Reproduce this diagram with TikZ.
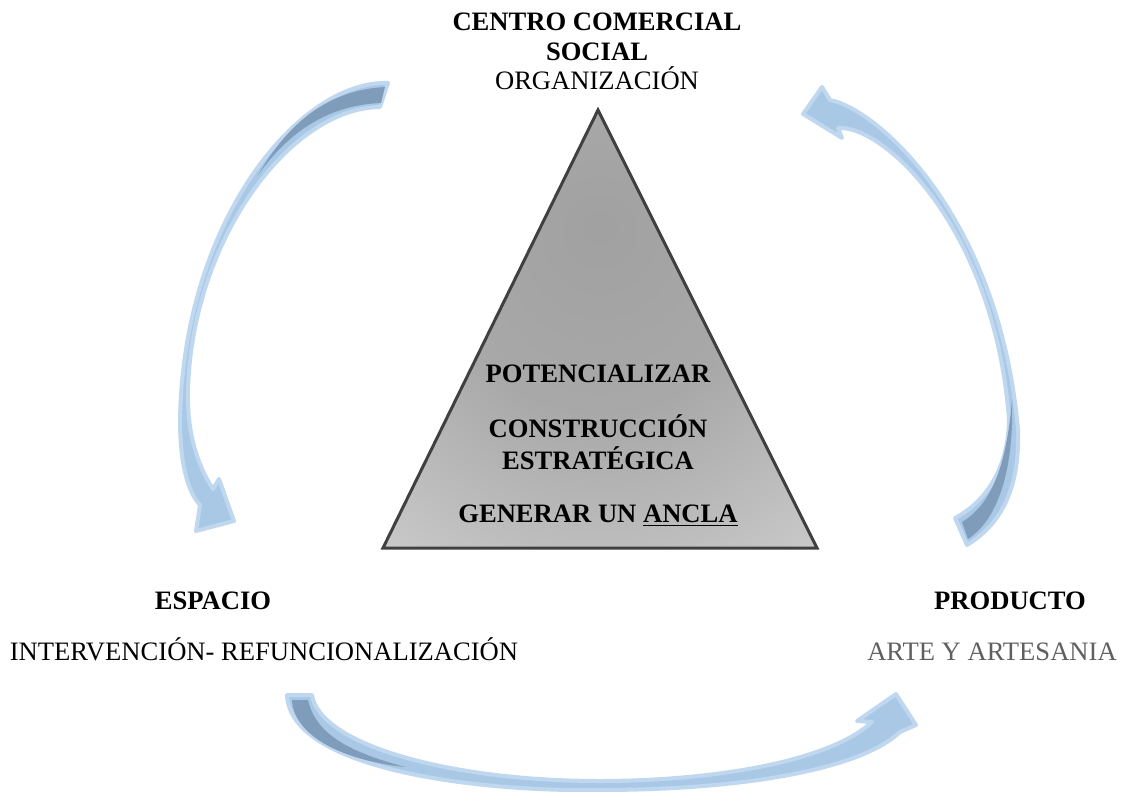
\documentclass[tikz,border=0pt]{standalone}
\usepackage{fontspec}
\setmainfont{Liberation Serif}
\usetikzlibrary{positioning, backgrounds}
\definecolor{pyredge}{HTML}{404040}
\definecolor{arrowedge}{HTML}{C0D8EF}
\definecolor{arrowfill}{HTML}{A9C8E6}
\definecolor{arrowdark}{HTML}{7F9DBA}
\definecolor{softtext}{HTML}{5F5F5F}
\pgfdeclareradialshading{pyrshade}{\pgfpoint{0bp}{12bp}}%
  {color(0bp)=(black!37); color(18bp)=(black!34); color(42bp)=(black!19);
   color(60bp)=(black!12)}
\tikzset{
  cyctitle/.style = {font=\fontsize{13.3}{15}\selectfont\bfseries,
                     anchor=base, inner sep=0pt},
  cyctext/.style  = {font=\fontsize{13.3}{15}\selectfont,
                     anchor=base, inner sep=0pt},
  pyrbox/.style   = {draw=pyredge, line width=1.5pt, shading=pyrshade},
  curvarrow/.style = {fill=arrowfill, draw=arrowedge, line width=2pt,
                      line join=round},
  arrowback/.style = {fill=arrowdark}
}
\begin{document}
\begin{tikzpicture}[x=0.5pt, y=-0.5pt]
  \useasboundingbox (0,0) rectangle (1124,792);

  % top corner
  \node[cyctitle] (centro) at (597,31) {CENTRO COMERCIAL};
  \node[cyctitle] (social) at (597,61) {SOCIAL};
  \node[cyctext]  (organiz) at (597,90) {ORGANIZACIÓN};

  % bottom corners
  \node[cyctitle] (espacio)  at (213,609) {ESPACIO};
  \node[cyctext]  (interv)   at (264,660) {INTERVENCIÓN- REFUNCIONALIZACIÓN};
  \node[cyctitle] (producto) at (1010,609) {PRODUCTO};
  \node[cyctext, text=softtext] (arte) at (992,660) {ARTE Y ARTESANIA};

  % pyramid
  \coordinate (pyrtop)   at (598,110);
  \coordinate (pyrleft)  at (383,548);
  \coordinate (pyrright) at (817,548);
  \draw[pyrbox] (pyrtop) -- (pyrright) -- (pyrleft) -- cycle;

  \node[cyctitle] (potenc) at (598,382) {POTENCIALIZAR};
  \node[cyctitle] (constr) at (598,437) {CONSTRUCCIÓN};
  \node[cyctitle] (estrat) at (598,469) {ESTRATÉGICA};
  \node[cyctitle] (ancla)  at (598,522) {GENERAR UN \underline{ANCLA}};

  % organizacion -> espacio
  \coordinate (orgtailA) at (388,83);
  \coordinate (orgtailB) at (380,107);
  \coordinate (esptip)   at (234,521);
  \draw[curvarrow] (orgtailA) .. controls (300,80) and (183,220) .. (180,420)
        .. controls (180,465) and (188,492) .. (200,505) -- (196,531) -- (esptip)
        -- (219,479) -- (213,489) .. controls (194,460) and (187,425) .. (188,390)
        .. controls (192,240) and (290,108) .. (orgtailB) -- cycle;
  \fill[arrowback] (385,87) -- (381,103) .. controls (330,105) and (290,130) .. (258,175)
        .. controls (290,120) and (330,90) .. (385,87) -- cycle;

  % espacio -> producto
  \coordinate (esptailA) at (287,695);
  \coordinate (esptailB) at (312,695);
  \coordinate (prodtip)  at (896,694);
  \draw[curvarrow] (esptailB) .. controls (320,745) and (450,781) .. (600,781)
        .. controls (700,781) and (825,765) .. (872,722) -- (857,721) -- (prodtip)
        -- (916,725) -- (900,732) .. controls (860,770) and (740,790) .. (600,790)
        .. controls (480,792) and (290,770) .. (esptailA) -- cycle;
  \fill[arrowback] (292,700) -- (308,700) .. controls (316,735) and (350,752) .. (405,767)
        .. controls (340,760) and (294,735) .. (292,700) -- cycle;

  % producto -> organizacion
  \coordinate (prodtailA) at (967,545);
  \coordinate (prodtailB) at (955,518);
  \coordinate (orgtip)    at (803,114);
  \draw[curvarrow] (prodtailB) .. controls (985,502) and (1008,470) .. (1009,420)
        .. controls (995,230) and (885,125) .. (838,128) -- (842,138) -- (orgtip)
        -- (822,87) -- (830,100) .. controls (880,110) and (1000,220) .. (1018,430)
        .. controls (1020,490) and (1000,525) .. (prodtailA) -- cycle;
  \fill[arrowback] (962,522) .. controls (990,505) and (1006,470) .. (1012,400)
        .. controls (1014,465) and (1000,518) .. (968,539) -- cycle;
\end{tikzpicture}
\end{document}
